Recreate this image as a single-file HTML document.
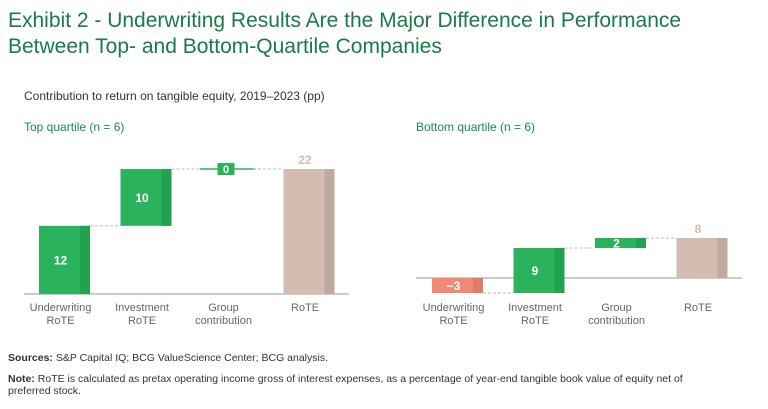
<!DOCTYPE html>
<html><head><meta charset="utf-8"><style>
body{margin:0;width:768px;height:409px;background:#fff;font-family:"Liberation Sans",sans-serif;overflow:hidden;position:relative}
.t{position:absolute;white-space:nowrap}
</style></head><body>
<div class="t" style="left:8px;top:8px;font-size:21px;line-height:26px;color:#1a7a4a">Exhibit 2 - Underwriting Results Are the Major Difference in Performance<br>Between Top- and Bottom-Quartile Companies</div>
<div class="t" style="left:24px;top:89px;font-size:12px;color:#333">Contribution to return on tangible equity, 2019–2023 (pp)</div>
<div class="t" style="left:24px;top:120px;font-size:12px;color:#1a8a50">Top quartile (n = 6)</div>
<div class="t" style="left:416px;top:120px;font-size:12px;color:#1a8a50">Bottom quartile (n = 6)</div>
<svg id="c" width="768" height="409" style="position:absolute;left:0;top:0"></svg>
<div class="t" style="left:8px;top:352px;font-size:10.5px;color:#333"><b>Sources:</b> S&amp;P Capital IQ; BCG ValueScience Center; BCG analysis.</div>
<div class="t" style="left:8px;top:373px;font-size:10.5px;line-height:12px;color:#333"><b>Note:</b> RoTE is calculated as pretax operating income gross of interest expenses, as a percentage of year-end tangible book value of equity net of<br>preferred stock.</div>
<script>
const categories=["Underwriting\nRoTE","Investment\nRoTE","Group\ncontribution","RoTE"];
const topValues=[12,10,0,22];
const bottomValues=[-3,9,2,8];
const NS="http://www.w3.org/2000/svg";
const svg=document.getElementById('c');
function mk(t,a,p){const e=document.createElementNS(NS,t);for(const k in a)e.setAttribute(k,a[k]);(p||svg).appendChild(e);return e;}
function draw(vals,x0,base,scale,axL,axR,name,labelY){
  const y=v=>base-v*scale;
  const bl=mk('line',{x1:axL,x2:axR,y1:base,y2:base,stroke:'#999','stroke-width':1});
  
  let cum=0;
  vals.forEach((v,i)=>{
    const bx=x0+i*81.5,w=51,last=i===vals.length-1;
    let a,b;
    if(last){a=0;b=v;}else{a=cum;b=cum+v;}
    const top=Math.min(y(a),y(b)),h=Math.max(Math.abs(y(a)-y(b)),2);
    const neg=!last&&v<0;
    const c1=last?'#d4bcb0':neg?'#f08a77':'#2ab35c',c2=last?'#bfaa9f':neg?'#e07b68':'#22a14f';
    const g=mk('g',{});
    
    if(v===0&&!last){mk('line',{x1:bx-2,x2:bx+w+2,y1:y(a),y2:y(a),stroke:'#2ab35c','stroke-width':1.5},g);}
    else{mk('rect',{x:bx,y:top,width:w,height:h,fill:c1},g);mk('rect',{x:bx+w-10,y:top,width:10,height:h,fill:c2},g);}
    const lab=(v<0?'\u2212'+(-v):v);
    if(last){const t=mk('text',{x:bx+w/2-4,y:top-5,'text-anchor':'middle','font-size':12,'font-weight':'bold',fill:'#d4bcb0'},g);t.textContent=lab;}
    else if(v===0){mk('rect',{x:bx+w/2-10,y:y(a)-6,width:17,height:12,fill:'#2ab35c'},g);const t=mk('text',{x:bx+w/2-1.5,y:y(a)+4,'text-anchor':'middle','font-size':11,'font-weight':'bold',fill:'#fff'},g);t.textContent=lab;}
    else{const t=mk('text',{x:bx+w/2-4,y:top+h/2+4.5,'text-anchor':'middle','font-size':12,'font-weight':'bold',fill:'#fff'},g);t.textContent=lab;}
    if(!last){cum=b;const l=mk('line',{x1:bx+w,x2:bx+81.5,y1:y(cum),y2:y(cum),stroke:'#bbb','stroke-dasharray':'3,2'});
      }
    const lines=categories[i].split('\n');
    lines.forEach((s,k)=>{const t=mk('text',{x:bx+w/2-4,y:labelY+k*13,'text-anchor':'middle','font-size':11,fill:'#666'});t.textContent=s;
      });
  });
}
draw(topValues,39,294,5.68,24,349,'top',311);
draw(bottomValues,432,278,5,416,742,'bottom',311);
</script>
</body></html>
